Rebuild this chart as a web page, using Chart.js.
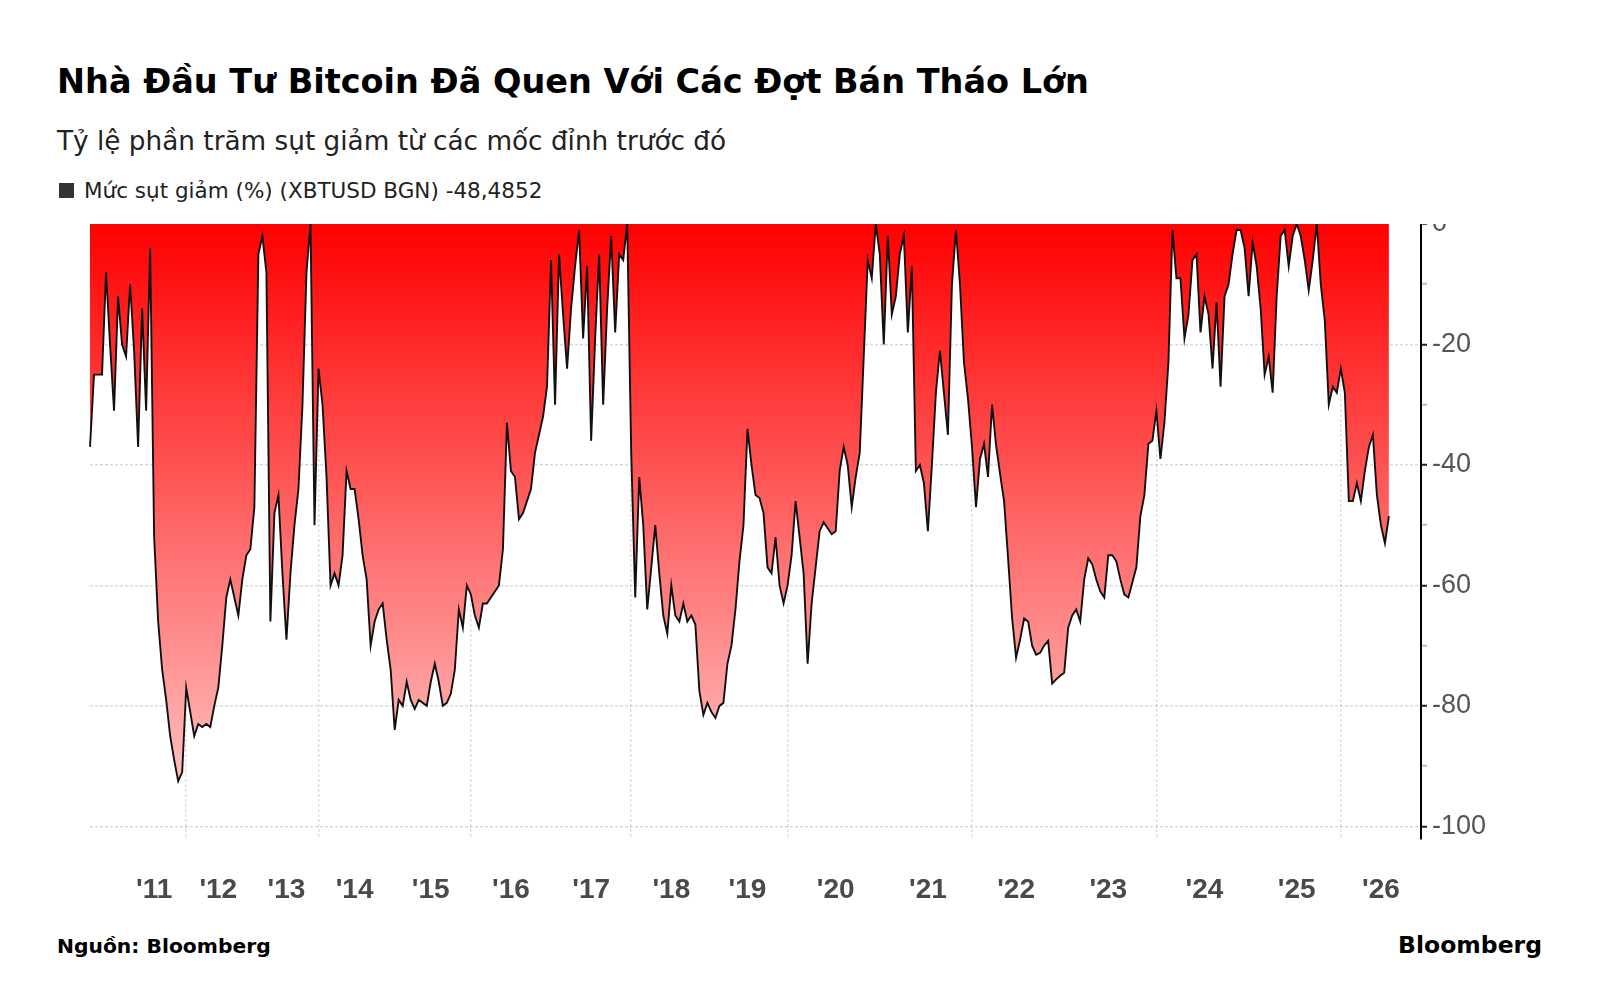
<!DOCTYPE html>
<html><head><meta charset="utf-8">
<script src="https://cdn.jsdelivr.net/npm/chart.js@4.4.1/dist/chart.umd.min.js"></script>
<style>
html,body{margin:0;padding:0;background:#fff;}
body{width:1600px;height:998px;position:relative;overflow:hidden;font-family:'DejaVu Sans',sans-serif;color:#000;}
.t{position:absolute;white-space:nowrap;line-height:1;}
#title{left:57px;top:65px;font-size:33.5px;font-weight:bold;}
#sub{left:57px;top:128px;font-size:26.3px;color:#222;}
#leg{left:84px;top:180px;font-size:21.5px;color:#222;}
#legbox{position:absolute;left:59px;top:183px;width:15px;height:15px;background:#333;}
#src{left:57px;top:936px;font-size:20.3px;font-weight:bold;}
#brand{right:58px;top:934px;font-size:23.5px;font-weight:bold;}
#wrap{position:absolute;left:0;top:224px;width:1600px;height:726px;}
</style></head>
<body>
<div class="t" id="title">Nhà Đầu Tư Bitcoin Đã Quen Với Các Đợt Bán Tháo Lớn</div>
<div class="t" id="sub">Tỷ lệ phần trăm sụt giảm từ các mốc đỉnh trước đó</div>
<div id="legbox"></div>
<div class="t" id="leg">Mức sụt giảm (%) (XBTUSD BGN) -48,4852</div>
<div class="t" id="src">Nguồn: Bloomberg</div>
<div class="t" id="brand">Bloomberg</div>
<div id="wrap"><canvas id="c"></canvas></div>
<script>
// Drawdown from previous peak (%), observations grouped by calendar year
const drawdown2010 = [-37, -25, -25, -25, -8, -20, -31, -12];
const drawdown2011 = [-20, -22, -10, -21, -37, -14, -31, -4, -52, -66, -74, -79, -85, -89, -92.5, -91];
const drawdown2012 = [-77, -81, -85, -83, -83.5, -83, -83.5, -80, -77, -70, -62, -59, -62, -65, -59, -55, -54];
const drawdown2013 = [-47, -5, -2, -8, -66, -48, -45, -58, -69, -58, -50, -44, -30, -8, 0, -50];
const drawdown2014 = [-24, -30, -42, -60, -58, -60, -55, -41, -44, -44, -49, -55, -59, -70, -66, -64, -63, -69, -74];
const drawdown2015 = [-84, -79, -80, -76, -79, -80.5, -79, -79.5, -80, -76, -73, -76, -80, -79.5, -78, -74, -64, -67, -60];
const drawdown2016 = [-61.5, -65, -67, -63, -63, -62, -61, -60, -54, -33, -41, -42, -49, -48, -46, -44, -38, -35, -32, -27];
const drawdown2017 = [-6, -30, -5, -15, -24, -14, -7, -1, -19, -7, -36, -19, -5, -30, -14, -2, -18, -5, -6, 0];
const drawdown2018 = [-38, -62, -42, -50, -64, -57, -50, -58, -65, -68, -60, -65, -66, -63, -66, -65, -66.5, -77.5, -81.5, -79.5];
const drawdown2019 = [-81, -82, -80, -79.5, -73, -70, -64, -56, -50, -34, -40, -45, -45.5, -48, -57, -58, -52, -60, -63];
const drawdown2020 = [-60, -55, -46, -52, -58, -73, -63, -57, -51, -49.5, -50.5, -51.5, -51, -41, -37, -40, -47, -42, -38, -22, -6, -9, 0, -5];
const drawdown2021 = [-20, -2, -15, -12, -5, -2, -18, -7, -41, -40, -43, -51, -40, -28, -21, -28, -35, -10, -1, -10, -23, -29];
const drawdown2022 = [-37, -47, -39, -36.5, -42, -30, -36.7, -41.5, -46, -55.5, -65.4, -72, -69, -65.5, -66, -70, -71.5, -71.2, -70, -69.2, -76.3, -75.6, -75];
const drawdown2023 = [-74.5, -67, -65, -64, -66, -59, -55.5, -56.5, -59, -61, -62, -55, -55, -56, -59, -61.5, -62, -59.5, -57, -48.5, -45, -36.5, -36];
const drawdown2024 = [-31, -39, -33, -23, -1, -9, -9, -19, -15, -6, -5, -18, -12, -15, -24, -13, -27, -12, -10, -5, -1, -1, -4, -12];
const drawdown2025 = [-3, -7, -14, -25, -22, -28, -12, -2, -1, -7, -2, 0, -2, -6, -11, -6, 0, -10, -16, -30, -27, -28];
const drawdown2026 = [-24, -28, -46, -46, -43, -46, -41, -37, -35, -45, -50, -53, -48.4852];

const years = [2010, 2011, 2012, 2013, 2014, 2015, 2016, 2017, 2018, 2019, 2020, 2021, 2022, 2023, 2024, 2025, 2026];
const yearTickLabels = ["", "'11", "'12", "'13", "'14", "'15", "'16", "'17", "'18", "'19", "'20", "'21", "'22", "'23", "'24", "'25", "'26"];
const gridYears = [2012, 2014, 2016, 2018, 2020, 2022, 2024, 2026];
const yTicks = [0, -20, -40, -60, -80, -100];
const axisPad = 8; // empty slots between the last observation and the value axis

const yearSeries = [drawdown2010, drawdown2011, drawdown2012, drawdown2013, drawdown2014, drawdown2015,
  drawdown2016, drawdown2017, drawdown2018, drawdown2019, drawdown2020, drawdown2021, drawdown2022,
  drawdown2023, drawdown2024, drawdown2025, drawdown2026];

const labels = [], values = [], tickText = {}, gridIdx = new Set();
years.forEach((yr, yi) => {
  const arr = yearSeries[yi];
  const start = values.length;
  arr.forEach((v, k) => { labels.push(yr + '#' + (k + 1)); values.push(v); });
  let n = arr.length;
  if (yi === years.length - 1) n += axisPad;
  if (yearTickLabels[yi]) tickText[start + Math.floor(n / 2)] = yearTickLabels[yi];
  if (gridYears.includes(yr)) gridIdx.add(start);
});
for (let k = 0; k < axisPad; k++) { labels.push('pad#' + (k + 1)); values.push(null); }

const axisFont = "'Liberation Sans', Arial, sans-serif";

function fillGradient(ctx) {
  const chart = ctx.chart;
  const area = chart.chartArea;
  if (!area) return 'rgb(255,0,0)';
  const y = chart.scales.y;
  const g = chart.ctx.createLinearGradient(0, y.getPixelForValue(0), 0, y.getPixelForValue(-100));
  g.addColorStop(0, 'rgb(255,0,0)');
  g.addColorStop(1, 'rgb(255,205,205)');
  return g;
}

new Chart(document.getElementById('c'), {
  type: 'line',
  data: {
    labels: labels,
    datasets: [{
      label: 'Mức sụt giảm (%) (XBTUSD BGN)',
      data: values,
      borderColor: '#111',
      borderWidth: 1.9,
      pointRadius: 0,
      tension: 0,
      fill: 'end',
      backgroundColor: fillGradient
    }]
  },
  options: {
    responsive: true,
    maintainAspectRatio: false,
    devicePixelRatio: 1,
    animation: false,
    layout: { padding: { left: 90, right: 0, top: 0, bottom: 8 } },
    plugins: { legend: { display: false }, tooltip: { enabled: false } },
    scales: {
      x: {
        type: 'category',
        offset: false,
        afterFit(s) { s.paddingLeft = 0; s.paddingRight = 0; },
        ticks: {
          autoSkip: false, maxRotation: 0, minRotation: 0, padding: 35,
          color: '#4a4a4a', font: { family: axisFont, size: 28, weight: 'bold' },
          callback: (v, i) => tickText[i] || ''
        },
        grid: {
          drawTicks: false, lineWidth: 1.5,
          color: (c) => gridIdx.has(c.index) ? 'rgba(0,0,0,0.12)' : 'rgba(0,0,0,0)'
        },
        border: { display: false, dash: [3, 2] }
      },
      y: {
        position: 'right',
        min: -102, max: 0,
        afterFit(s) { s.width = 179; s.paddingTop = 0; s.paddingBottom = 0; },
        ticks: {
          stepSize: 10, includeBounds: false, autoSkip: false, padding: 5,
          color: '#555', font: { family: axisFont, size: 27 },
          callback: (v) => yTicks.includes(Math.round(v)) ? String(Math.round(v)) : ''
        },
        grid: {
          lineWidth: 1.5, tickLength: 6, tickWidth: 2,
          color: (c) => (c.tick && yTicks.includes(Math.round(c.tick.value)) && Math.round(c.tick.value) !== 0) ? 'rgba(0,0,0,0.14)' : 'rgba(0,0,0,0)',
          tickColor: (c) => (c.tick && yTicks.includes(Math.round(c.tick.value))) ? '#222' : '#bbb'
        },
        border: { display: true, color: '#000', width: 2, dash: [3, 2] }
      }
    }
  }
});
</script>
</body></html>
